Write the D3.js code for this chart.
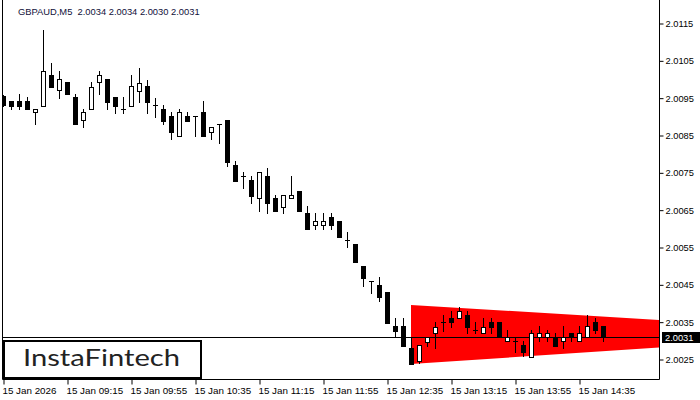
<!DOCTYPE html>
<html>
<head>
<meta charset="utf-8">
<script src="https://cdn.jsdelivr.net/npm/d3@7"></script>
<style>
  body { margin: 0; background: #fff; }
  svg { display: block; }
  .axis text { font-family: "Liberation Sans", Arial, sans-serif; fill: #000; }
</style>
</head>
<body>
<div id="container"></div>
<script>
// GBPAUD M5 candles, oldest first
const opens  = [2.00956,2.00942,2.00942,2.00942,2.00912,2.00930,2.01012,2.00972,2.00993,2.00953,
                2.00892,2.00921,2.00993,2.01001,2.00953,2.00921,2.00930,2.00970,2.00983,2.00932,
                2.00920,2.00902,2.00849,2.00902,2.00902,2.00912,2.00860,2.00881,2.00892,2.00771,
                2.00742,2.00731,2.00682,2.00742,2.00682,2.00659,2.00682,2.00701,2.00642,2.00610,
                2.00610,2.00631,2.00621,2.00570,2.00559,2.00500,2.00460,2.00450,2.00430,2.00341,
                2.00340,2.00280,2.00247,2.00298,2.00320,2.00350,2.00360,2.00360,2.00369,2.00329,
                2.00320,2.00350,2.00350,2.00299,2.00299,2.00289,2.00258,2.00310,2.00310,2.00310,
                2.00299,2.00320,2.00299,2.00310,2.00350,2.00340];
const highs  = [2.00958,2.00942,2.00961,2.00953,2.00921,2.01133,2.01045,2.01023,2.00993,2.00961,
                2.00921,2.00993,2.01023,2.01001,2.00953,2.00953,2.01012,2.01032,2.00999,2.00950,
                2.00932,2.00912,2.00920,2.00912,2.00902,2.00942,2.00872,2.00881,2.00892,2.00782,
                2.00751,2.00742,2.00751,2.00762,2.00691,2.00691,2.00742,2.00701,2.00661,2.00642,
                2.00642,2.00642,2.00621,2.00591,2.00559,2.00500,2.00460,2.00470,2.00430,2.00360,
                2.00360,2.00310,2.00289,2.00310,2.00350,2.00369,2.00380,2.00390,2.00380,2.00350,
                2.00360,2.00360,2.00350,2.00329,2.00310,2.00299,2.00329,2.00340,2.00329,2.00320,
                2.00340,2.00320,2.00340,2.00369,2.00360,2.00340];
const lows   = [2.00929,2.00920,2.00920,2.00921,2.00881,2.00930,2.00981,2.00951,2.00961,2.00881,
                2.00873,2.00921,2.00961,2.00921,2.00911,2.00911,2.00930,2.00941,2.00911,2.00900,
                2.00880,2.00841,2.00849,2.00890,2.00849,2.00849,2.00841,2.00831,2.00769,2.00729,
                2.00710,2.00670,2.00649,2.00642,2.00649,2.00642,2.00682,2.00649,2.00599,2.00599,
                2.00599,2.00599,2.00579,2.00550,2.00510,2.00448,2.00429,2.00408,2.00349,2.00311,
                2.00287,2.00239,2.00240,2.00287,2.00280,2.00326,2.00338,2.00360,2.00320,2.00320,
                2.00320,2.00320,2.00310,2.00299,2.00269,2.00259,2.00258,2.00299,2.00299,2.00287,
                2.00280,2.00299,2.00299,2.00310,2.00320,2.00300];
const closes = [2.00932,2.00930,2.00930,2.00921,2.00921,2.01023,2.00981,2.01001,2.00961,2.00881,
                2.00913,2.00981,2.01012,2.00941,2.00930,2.00921,2.00983,2.00991,2.00941,2.00932,
                2.00890,2.00860,2.00912,2.00890,2.00902,2.00849,2.00872,2.00881,2.00780,2.00729,
                2.00742,2.00689,2.00751,2.00670,2.00649,2.00691,2.00691,2.00649,2.00599,2.00621,
                2.00621,2.00610,2.00579,2.00570,2.00510,2.00469,2.00460,2.00418,2.00349,2.00327,
                2.00287,2.00239,2.00289,2.00310,2.00338,2.00350,2.00350,2.00380,2.00338,2.00329,
                2.00338,2.00338,2.00310,2.00310,2.00299,2.00269,2.00320,2.00320,2.00320,2.00287,
                2.00310,2.00310,2.00320,2.00340,2.00329,2.00310];

const timeTickBars = [0, 8, 16, 24, 32, 40, 48, 56, 64, 72];
const timeTickLabels = ["15 Jan 2026","15 Jan 09:15","15 Jan 09:55","15 Jan 10:35","15 Jan 11:15",
                        "15 Jan 11:55","15 Jan 12:35","15 Jan 13:15","15 Jan 13:55","15 Jan 14:35"];
const priceTicks = [2.0025,2.0035,2.0045,2.0055,2.0065,2.0075,2.0085,2.0095,2.0105,2.0115];

// symmetrical triangle pattern: bars and upper/lower prices at each end
const triBars = [51, 82];
const triUpper = [2.00396, 2.00356];
const triLower = [2.00238, 2.00282];

const title = "GBPAUD,M5  2.0034 2.0034 2.0030 2.0031";
const lastPrice = 2.0031;

const width = 700, height = 400;
const plotLeft = 2, plotRight = 659, plotBottom = 379;

const svg = d3.select("#container").append("svg")
    .attr("width", width)
    .attr("height", height);

const x = d3.scaleLinear().domain([0, 82]).range([3, 659]);
const y = d3.scaleLinear().domain([2.0025, 2.0115]).range([359.5, 23.5]);

svg.append("clipPath").attr("id", "plot")
  .append("rect").attr("x", plotLeft).attr("y", 0)
  .attr("width", plotRight - plotLeft).attr("height", plotBottom);

const plot = svg.append("g").attr("clip-path", "url(#plot)");

// triangle
const tri = [
  [x(triBars[0]), y(triUpper[0])],
  [x(triBars[1]), y(triUpper[1])],
  [x(triBars[1]), y(triLower[1])],
  [x(triBars[0]), y(triLower[0])]
];
plot.append("path")
    .attr("d", d3.line()(tri) + "Z")
    .attr("fill", "#ff0000");

// current price line
plot.append("line")
    .attr("x1", plotLeft).attr("x2", plotRight)
    .attr("y1", Math.round(y(lastPrice)) + 0.5).attr("y2", Math.round(y(lastPrice)) + 0.5)
    .attr("stroke", "#000").attr("stroke-width", 1);

// candles
const candles = plot.append("g").attr("shape-rendering", "crispEdges");
opens.forEach((o, i) => {
  const c = closes[i];
  const cx = x(i);
  const yh = Math.round(y(highs[i])), yl = Math.round(y(lows[i]));
  const top = Math.round(y(Math.max(o, c))), bot = Math.round(y(Math.min(o, c)));

  candles.append("line")
      .attr("x1", cx + 0.5).attr("x2", cx + 0.5)
      .attr("y1", yh).attr("y2", yl + 1)
      .attr("stroke", "#000");

  if (top === bot) {
    candles.append("line")
        .attr("x1", cx - 2).attr("x2", cx + 3)
        .attr("y1", top + 0.5).attr("y2", top + 0.5)
        .attr("stroke", "#000");
  } else if (c < o) {
    candles.append("rect")
        .attr("x", cx - 2).attr("y", top)
        .attr("width", 5).attr("height", bot - top + 1)
        .attr("fill", "#000");
  } else {
    candles.append("rect")
        .attr("x", cx - 1.5).attr("y", top + 0.5)
        .attr("width", 4).attr("height", bot - top)
        .attr("fill", "#fff").attr("stroke", "#000");
  }
});

// frame
svg.append("path")
    .attr("d", `M${plotLeft + 0.5},0 V${plotBottom + 0.5} H${plotRight + 0.5} V0`)
    .attr("fill", "none").attr("stroke", "#000");

// time axis
const xaxis = d3.axisBottom(x)
    .tickValues(timeTickBars)
    .tickFormat((d, i) => timeTickLabels[i])
    .tickSize(5).tickPadding(3);
const gx = svg.append("g").attr("class", "axis")
    .attr("transform", `translate(0.5,${plotBottom + 0.5})`)
    .call(xaxis);
gx.select(".domain").remove();
gx.selectAll("text").attr("text-anchor", "start").attr("x", -1.5)
    .style("font-size", "9.8px");

// price axis
const yaxis = d3.axisRight(y)
    .tickValues(priceTicks)
    .tickFormat(d3.format(".4f"))
    .tickSize(4).tickPadding(2);
const gy = svg.append("g").attr("class", "axis")
    .attr("transform", `translate(${plotRight + 0.5},0)`)
    .call(yaxis);
gy.select(".domain").remove();
gy.selectAll("text").style("font-size", "9.3px");

// current price tag
const ly = Math.round(y(lastPrice));
svg.append("rect")
    .attr("x", 662).attr("y", ly - 5).attr("width", 38).attr("height", 11)
    .attr("fill", "#000");
svg.append("text")
    .attr("x", 665).attr("y", ly + 0.5)
    .attr("dy", "0.35em")
    .style("font-family", "Liberation Sans, Arial, sans-serif")
    .style("font-size", "9.3px")
    .attr("fill", "#fff")
    .text(d3.format(".4f")(lastPrice));

// title, sized so it spans about 182px like the original
const titleText = svg.append("text")
    .attr("x", 18).attr("y", 15)
    .style("font-family", "Liberation Sans, Arial, sans-serif")
    .style("font-size", "10px")
    .style("white-space", "pre")
    .attr("fill", "#10103a")
    .text(title);
const tw = titleText.node().getComputedTextLength();
if (tw > 0) titleText.style("font-size", (10 * 182 / tw).toFixed(2) + "px");

// logo
svg.append("rect")
    .attr("x", 4).attr("y", 341).attr("width", 197).attr("height", 37)
    .attr("fill", "#fff").attr("stroke", "#000").attr("stroke-width", 2);
svg.append("text")
    .attr("x", 23).attr("y", 366)
    .attr("textLength", 157).attr("lengthAdjust", "spacingAndGlyphs")
    .style("font-family", "Lato, 'Open Sans', sans-serif")
    .style("font-size", "24px")
    .style("font-weight", "400")
    .attr("fill", "#222")
    .text("InstaFintech");
</script>
</body>
</html>
